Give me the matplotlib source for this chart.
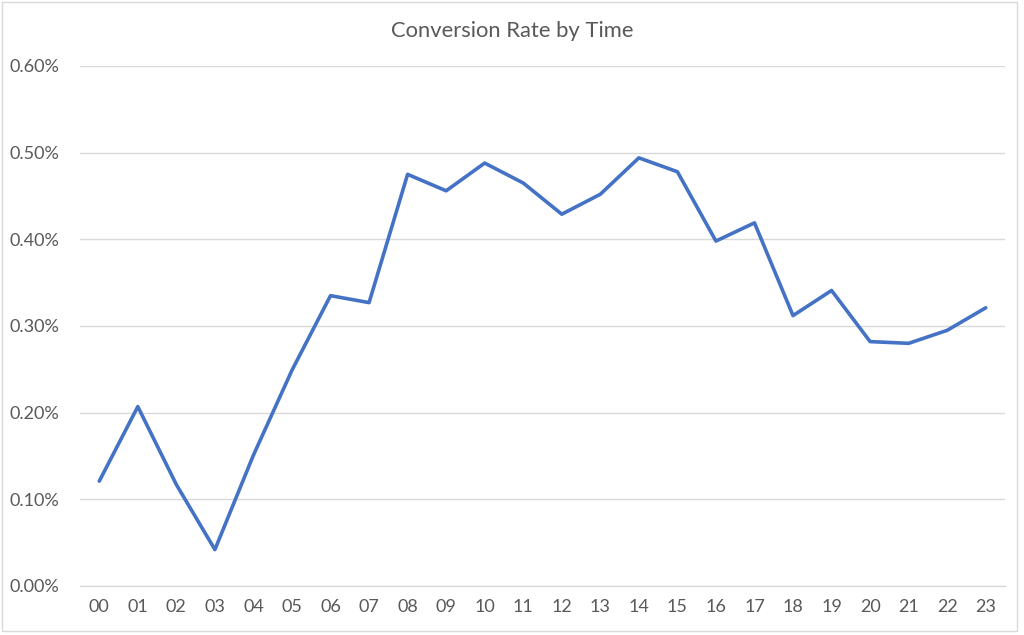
import matplotlib
matplotlib.use("Agg")
import matplotlib.pyplot as plt
from matplotlib.patches import Rectangle
from matplotlib.ticker import FuncFormatter

hours = ["00", "01", "02", "03", "04", "05", "06", "07", "08", "09", "10", "11",
         "12", "13", "14", "15", "16", "17", "18", "19", "20", "21", "22", "23"]
rate = [0.121, 0.207, 0.117, 0.042, 0.151, 0.249, 0.335, 0.327, 0.475, 0.456, 0.488, 0.465,
        0.429, 0.452, 0.494, 0.478, 0.398, 0.419, 0.312, 0.341, 0.282, 0.280, 0.295, 0.321]
y_ticks = [0.0, 0.1, 0.2, 0.3, 0.4, 0.5, 0.6]

plt.rcParams['font.family'] = ['Lato', 'DejaVu Sans']
txt = '#595959'
grid = '#D9D9D9'

fig = plt.figure(figsize=(10.24, 6.35), dpi=100)
ax = fig.add_axes([80/1024, 49/635, 925/1024, 520/635])
x = list(range(len(hours)))
ax.plot(x, rate, color='#4472C4', linewidth=2.6, solid_joinstyle='round', solid_capstyle='round')
ax.set_xlim(-0.5, len(hours) - 0.5)
ax.set_ylim(0, 0.6)
ax.set_xticks(x)
ax.set_xticklabels(hours)
ax.set_yticks(y_ticks)
ax.yaxis.set_major_formatter(FuncFormatter(lambda v, p: f"{v:.2f}%"))
ax.grid(axis='y', color=grid, linewidth=1)
ax.set_axisbelow(True)
for s in ['top', 'right', 'left']:
    ax.spines[s].set_visible(False)
ax.spines['bottom'].set_color(grid)
ax.spines['bottom'].set_linewidth(1)
ax.tick_params(axis='both', length=0, labelsize=13, colors=txt)
ax.tick_params(axis='x', pad=9)
ax.tick_params(axis='y', pad=15)
fig.text(512/1024, 1 - 31/635, "Conversion Rate by Time", ha='center', va='center',
         fontsize=15.8, color=txt)
fig.patches.append(Rectangle((2/1024, 4/635), 1015/1024, 629/635, transform=fig.transFigure,
                             fill=False, edgecolor=grid, linewidth=1))
fig.savefig("out.png", dpi=100)
